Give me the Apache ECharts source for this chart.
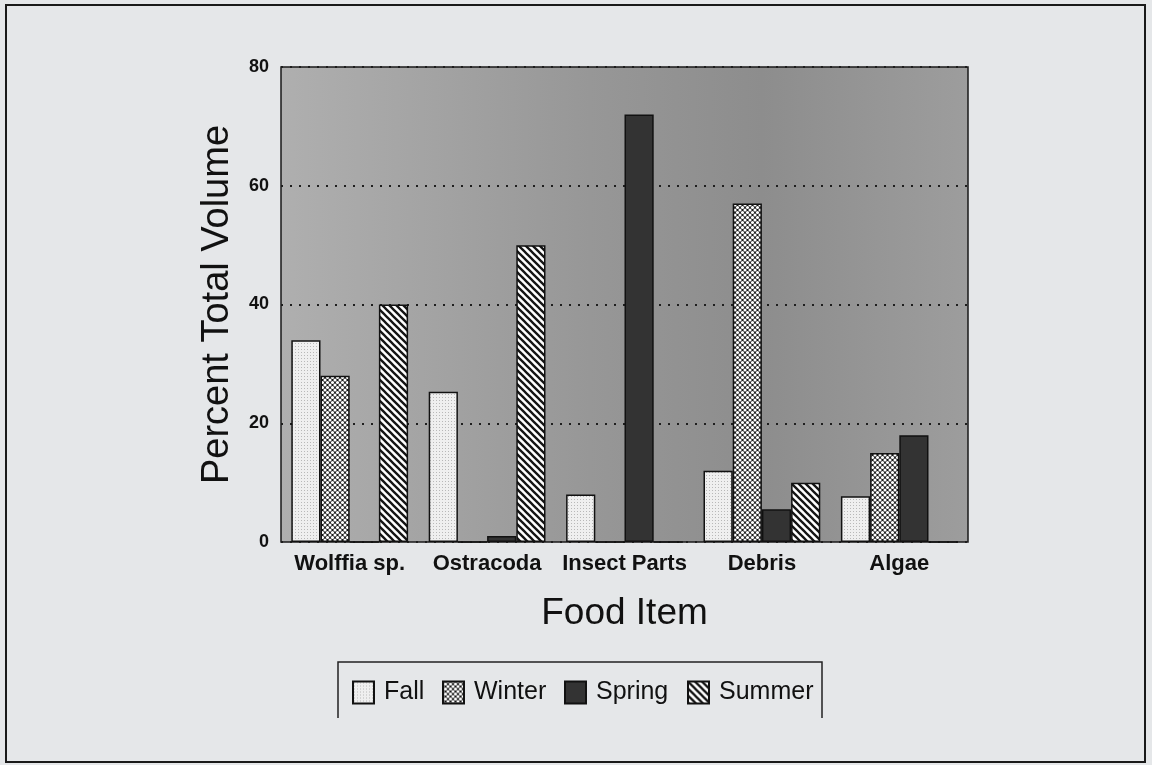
<!DOCTYPE html>
<html>
<head>
<meta charset="utf-8">
<script src="https://cdn.jsdelivr.net/npm/echarts@6/dist/echarts.min.js"></script>
<style>
  html, body { margin: 0; padding: 0; background: #e5e7e9; }
  #chart { width: 1152px; height: 765px; }
</style>
</head>
<body>
<div id="chart"></div>
<script>
// Food items and seasonal percent of total stomach volume
const categories = ['Wolffia sp.', 'Ostracoda', 'Insect Parts', 'Debris', 'Algae'];
const seasons = ['Fall', 'Winter', 'Spring', 'Summer'];
const fallValues   = [34, 25.3, 8, 12, 7.7];
const winterValues = [28, 0, 0, 57, 15];
const springValues = [0, 1, 72, 5.5, 18];
const summerValues = [40, 50, 0, 10, 0];
const yTicks = [0, 20, 40, 60, 80];

// Hatch / stipple fills for the bars
function makeTile(size, draw) {
  const c = document.createElement('canvas');
  c.width = size; c.height = size;
  const g = c.getContext('2d');
  draw(g, size);
  return { image: c, repeat: 'repeat' };
}
const fallFill = makeTile(3, (g, s) => {
  g.fillStyle = '#efefef'; g.fillRect(0, 0, s, s);
  g.fillStyle = '#b8b8b8'; g.fillRect(1, 1, 1, 1);
});
const winterFill = makeTile(5, (g, s) => {
  g.fillStyle = '#161616'; g.fillRect(0, 0, s, s);
  g.fillStyle = '#ffffff';
  [[0, 0], [s, 0], [0, s], [s, s], [s / 2, s / 2]].forEach(([x, y]) => {
    g.beginPath(); g.arc(x, y, 1.55, 0, Math.PI * 2); g.fill();
  });
});
const springFill = '#333333';
const summerFill = makeTile(7, (g, s) => {
  g.fillStyle = '#ffffff'; g.fillRect(0, 0, s, s);
  g.strokeStyle = '#141414'; g.lineWidth = 2.3;
  [-s, 0, s].forEach(c => {
    g.beginPath(); g.moveTo(-1, -1 + c); g.lineTo(s + 1, s + 1 + c); g.stroke();
  });
});

const fills = [fallFill, winterFill, springFill, summerFill];
const valueSets = [fallValues, winterValues, springValues, summerValues];

// left edge of each legend swatch
const legendLefts = [352, 442, 564, 687];

const chart = echarts.init(document.getElementById('chart'), null, { renderer: 'canvas' });

const font = '"Liberation Sans", Arial, Helvetica, sans-serif';

chart.setOption({
  backgroundColor: '#e5e7e9',
  animation: false,
  textStyle: { fontFamily: font, color: '#111' },
  grid: {
    left: 281, right: 184, top: 67, bottom: 223,
    show: true,
    borderColor: '#1a1a1a',
    borderWidth: 1.5,
    backgroundColor: new echarts.graphic.LinearGradient(0, 0, 1, 0, [
      { offset: 0, color: '#afafaf' },
      { offset: 0.45, color: '#979797' },
      { offset: 0.7, color: '#8d8d8d' },
      { offset: 1, color: '#9d9d9d' }
    ])
  },
  legend: seasons.map((s, i) => ({
    data: [s],
    left: legendLefts[i],
    top: 680,
    padding: 0,
    itemWidth: 21,
    itemHeight: 22,
    icon: 'rect',
    textStyle: { fontSize: 25, color: '#111', fontFamily: font, padding: [2, 0, 0, 5] },
    selectedMode: false
  })),
  xAxis: {
    type: 'category',
    data: categories,
    name: 'Food Item',
    nameLocation: 'middle',
    nameGap: 53,
    nameTextStyle: { fontSize: 37, color: '#111', fontFamily: font },
    axisLine: { show: false },
    axisTick: { show: false },
    axisLabel: { interval: 0, fontSize: 22, fontWeight: 'bold', color: '#111', margin: 11, fontFamily: font }
  },
  yAxis: {
    type: 'value',
    min: yTicks[0],
    max: yTicks[yTicks.length - 1],
    interval: yTicks[1] - yTicks[0],
    name: 'Percent Total Volume',
    nameLocation: 'middle',
    nameGap: 44,
    nameTextStyle: { fontSize: 38, color: '#111', fontFamily: font },
    axisLine: { show: false },
    axisTick: { show: false },
    axisLabel: { fontSize: 18, fontWeight: 'bold', color: '#111', margin: 12, fontFamily: font },
    splitLine: {
      show: true,
      lineStyle: { color: '#1e1e1e', width: 2, type: [2, 7] }
    }
  },
  series: seasons.map((name, i) => ({
    name: name,
    type: 'bar',
    data: valueSets[i],
    barGap: '0%',
    barCategoryGap: '15%',
    itemStyle: { color: fills[i], borderColor: '#111', borderWidth: 1.5 }
  })),
  graphic: [
    // page frame
    {
      type: 'rect',
      shape: { x: 6, y: 5, width: 1139, height: 757 },
      style: { fill: 'none', stroke: '#1a1a1a', lineWidth: 2 },
      silent: true
    },
    // legend frame (open at the bottom)
    {
      type: 'polyline',
      shape: { points: [[338, 718], [338, 662], [822, 662], [822, 718]] },
      style: { fill: 'none', stroke: '#222', lineWidth: 1.5 },
      silent: true
    }
  ]
});
</script>
</body>
</html>
